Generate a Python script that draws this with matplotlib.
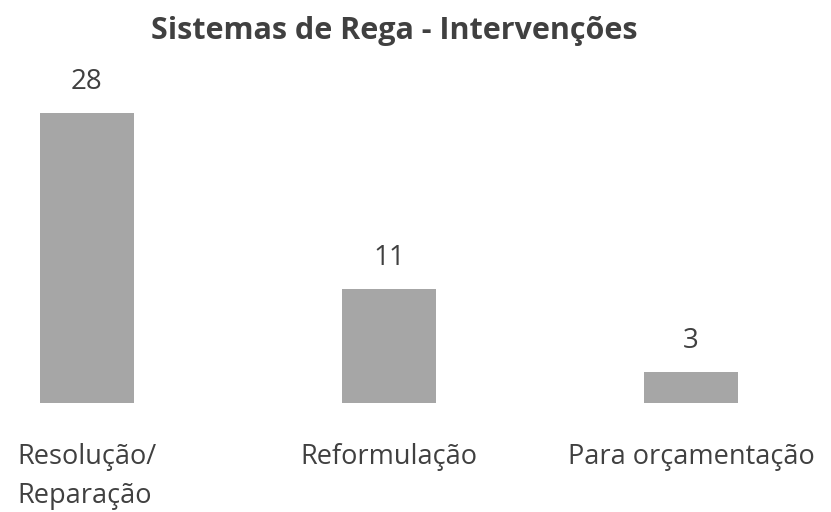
import matplotlib.pyplot as plt
import numpy as np

categories = ['Resolução/\nReparação', 'Reformulação', 'Para orçamentação']
values = [28, 11, 3]
title = 'Sistemas de Rega - Intervenções'

plt.rcParams['font.family'] = ['Open Sans', 'DejaVu Sans']
text_color = '#404040'
bar_color = '#a6a6a6'

fig = plt.figure(figsize=(8.31, 5.12), dpi=100)
ax = fig.add_axes([0, (512 - 403) / 512, 1, 362.5 / 512])

index = np.arange(len(categories))
bars = ax.bar(index, values, 0.31, color=bar_color)

ax.set_xlim(-0.288, -0.288 + 831 / 302)
ax.set_ylim(0, 35)

for rect, v in zip(bars, values):
    ax.annotate(str(v), (rect.get_x() + rect.get_width() / 2, v),
                xytext=(0, 12), textcoords='offset points',
                ha='center', va='bottom', fontsize=20, color=text_color)

ax.set_xticks(index)
ax.set_xticklabels(categories, fontsize=19.5, color=text_color,
                   multialignment='left', linespacing=1.5)
ax.tick_params(axis='x', length=0, pad=29)
ax.set_yticks([])
for s in ax.spines.values():
    s.set_visible(False)

fig.text(0.474, 1 - 31 / 512, title, ha='center', va='center',
         fontsize=22, fontweight='bold', color=text_color)

fig.savefig('out.png', dpi=100)
